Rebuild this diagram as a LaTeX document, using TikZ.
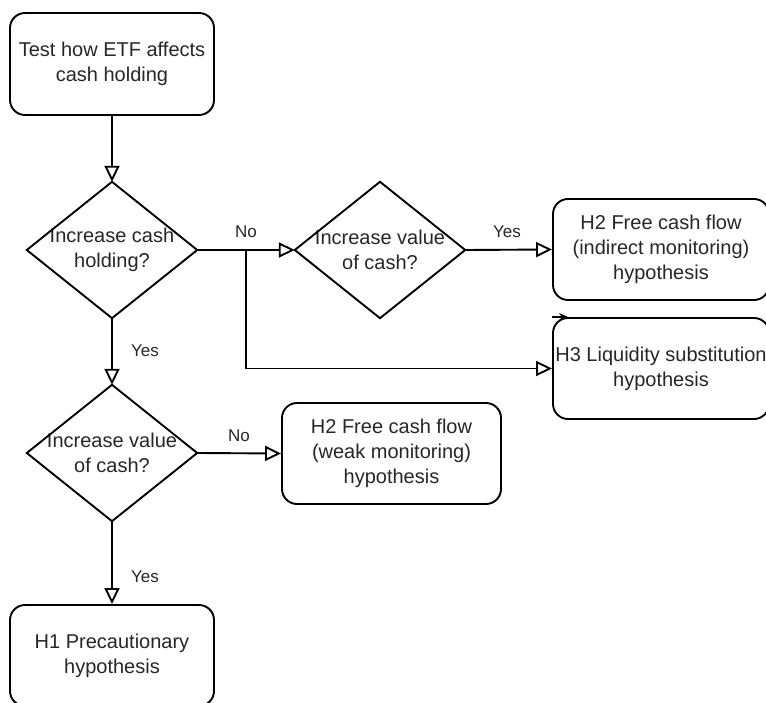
\documentclass[tikz,border=0pt]{standalone}
\usepackage{fontspec}
\setmainfont{Liberation Sans}
\usetikzlibrary{arrows.meta}
\begin{document}
\begin{tikzpicture}[x=1pt,y=-1pt,
  every node/.style={font=\fontsize{20}{25}\selectfont, align=center, inner sep=0pt, text=black!85},
  rbox/.style={draw, line width=1.9pt, rounded corners=15pt},
  dnode/.style={minimum width=170pt, minimum height=136pt},
  dshape/.style={draw, line width=1.9pt, line join=miter},
  conn/.style={line width=1.9pt, -{Triangle[open, length=16pt, width=15pt, line width=1.9pt]}},
  plain/.style={line width=1.9pt},
  lbl/.style={font=\fontsize{17}{20}\selectfont}
]
\useasboundingbox (0,0) rectangle (766,703);
\begin{scope}
\clip (0,0) rectangle (766,703);
\node[rbox, minimum width=204pt, minimum height=102pt] (start) at (112,64) {Test how ETF affects\\cash holding};
\node[dnode] (d1) at (112,250) {Increase cash\\holding?};
\node[dnode] (d2) at (380,250) {Increase value\\of cash?};
\node[dnode] (d3) at (112,453) {Increase value\\of cash?};
\node[rbox, minimum width=216pt, minimum height=101pt] (h2i) at (661,249.5) {H2 Free cash flow\\(indirect monitoring)\\hypothesis};
\node[rbox, minimum width=216pt, minimum height=101pt] (h3) at (661,368.5) {H3 Liquidity substitution\\hypothesis};
\node[rbox, minimum width=219pt, minimum height=101pt] (h2w) at (391.5,453.5) {H2 Free cash flow\\(weak monitoring)\\hypothesis};
\node[rbox, minimum width=204pt, minimum height=101pt] (h1) at (112,655.5) {H1 Precautionary\\hypothesis};
\foreach \d in {d1,d2,d3} {
  \draw[dshape] (\d.north) -- (\d.east) -- (\d.south) -- (\d.west) -- cycle;
}
\coordinate (j) at (246,250);
\coordinate (ta) at (552,317);
\coordinate (tb) at (568,317);
\draw[conn] (start.south) -- (d1.north);
\draw[plain] (d1.east) -- (j);
\draw[conn] (j) -- (d2.west);
\draw[conn] (d2.east) -- (h2i.west);
\draw[conn] (j) |- (h3.west);
\draw[conn] (d1.south) -- (d3.north);
\draw[conn] (d3.east) -- (h2w.west);
\draw[conn] (d3.south) -- (h1.north);
\draw[line width=1.2pt, -{Stealth[length=9pt, width=8pt]}] (ta) -- (tb);
\node[lbl] (l1) at (246,232) {No};
\node[lbl] (l2) at (507,232) {Yes};
\node[lbl] (l3) at (145,351) {Yes};
\node[lbl] (l4) at (239,436) {No};
\node[lbl] (l5) at (145,577) {Yes};
\end{scope}
\end{tikzpicture}
\end{document}
